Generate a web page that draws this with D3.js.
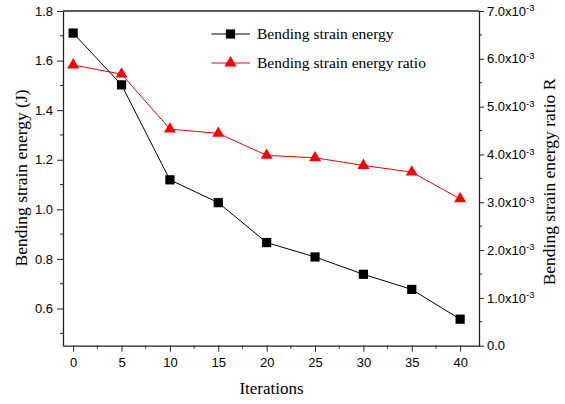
<!DOCTYPE html>
<html>
<head>
<meta charset="utf-8">
<script src="https://cdn.jsdelivr.net/npm/d3@7"></script>
<style>
  body { margin: 0; background: #fff; }
  text { fill: #000; }
</style>
</head>
<body>
<svg id="chart" width="565" height="404"></svg>
<script>
// Data
var iterations = [0, 5, 10, 15, 20, 25, 30, 35, 40];
var strainEnergy = [1.711, 1.502, 1.119, 1.027, 0.866, 0.808, 0.738, 0.677, 0.557];
var energyRatio = [5.87e-3, 5.68e-3, 4.53e-3, 4.44e-3, 3.98e-3, 3.93e-3, 3.77e-3, 3.63e-3, 3.07e-3];
var xTicks = [0, 5, 10, 15, 20, 25, 30, 35, 40];
var leftTicks = [0.6, 0.8, 1.0, 1.2, 1.4, 1.6, 1.8];
var rightTicks = [0, 1e-3, 2e-3, 3e-3, 4e-3, 5e-3, 6e-3, 7e-3];
var legendLabels = ["Bending strain energy", "Bending strain energy ratio"];

// Layout (plot frame)
var plotLeft = 63, plotRight = 479, plotTop = 11, plotBottom = 345.7;
var sans = "'Liberation Sans', Arial, sans-serif";
var serif = "'Liberation Serif', 'Times New Roman', serif";

var svg = d3.select("#chart");

var x = d3.scaleLinear().domain([-1.05, 41.95]).range([plotLeft, plotRight]);
var yL = d3.scaleLinear().domain([0.45, 1.8]).range([plotBottom, plotTop]);
var yR = d3.scaleLinear().domain([0, 7e-3]).range([plotBottom, plotTop]);

// Minor tick helper
function minorTicks(g, vals, fn, len, dir) {
  g.selectAll("line.minor").data(vals).enter().append("line")
    .attr("class", "minor")
    .each(function(d) {
      var p = fn(d);
      var sel = d3.select(this);
      if (dir === "down") sel.attr("x1", p).attr("x2", p).attr("y1", 0).attr("y2", len);
      else if (dir === "left") sel.attr("x1", 0).attr("x2", -len).attr("y1", p).attr("y2", p);
      else sel.attr("x1", 0).attr("x2", len).attr("y1", p).attr("y2", p);
    })
    .attr("stroke", "#222").attr("stroke-width", 1);
}

// Bottom axis
var gx = svg.append("g").attr("transform", "translate(0," + plotBottom + ")")
  .call(d3.axisBottom(x).tickValues(xTicks).tickSize(6).tickSizeOuter(0).tickPadding(4));
minorTicks(gx, [2.5, 7.5, 12.5, 17.5, 22.5, 27.5, 32.5, 37.5], x, 3, "down");

// Left axis
var gl = svg.append("g").attr("transform", "translate(" + plotLeft + ",0)")
  .call(d3.axisLeft(yL).tickValues(leftTicks).tickFormat(d3.format(".1f")).tickSize(6).tickSizeOuter(0).tickPadding(4));
minorTicks(gl, [0.5, 0.7, 0.9, 1.1, 1.3, 1.5, 1.7], yL, 3, "left");

// Right axis
var gr = svg.append("g").attr("transform", "translate(" + plotRight + ",0)")
  .call(d3.axisRight(yR).tickValues(rightTicks).tickSize(5).tickSizeOuter(0).tickPadding(3)
    .tickFormat(function() { return ""; }));
minorTicks(gr, [0.5e-3, 1.5e-3, 2.5e-3, 3.5e-3, 4.5e-3, 5.5e-3, 6.5e-3], yR, 3, "right");

// Right tick labels with superscript exponent
gr.selectAll(".tick text").each(function(d) {
  var t = d3.select(this).text(null);
  if (d === 0) { t.text("0.0"); return; }
  t.append("tspan").text((d * 1000).toFixed(1) + "x10");
  t.append("tspan").attr("dy", "-0.45em").attr("class", "sup").text("-3");
});

[gx, gl, gr].forEach(function(g) {
  g.selectAll("text").attr("font-family", sans).attr("font-size", "13px").attr("fill", "#000");
  g.selectAll("line").attr("stroke", "#222");
  g.select(".domain").attr("stroke", "#222").attr("stroke-width", 1.3);
});
gr.selectAll("tspan.sup").attr("font-size", "9.5px");
gx.selectAll(".tick text").attr("dy", "0.75em").attr("y", 12);

// Top frame line
svg.append("line").attr("x1", plotLeft).attr("x2", plotRight).attr("y1", plotTop).attr("y2", plotTop)
  .attr("stroke", "#222").attr("stroke-width", 1.3);

// Axis titles
svg.append("text").attr("x", (plotLeft + plotRight) / 2 + 0.5).attr("y", 394)
  .attr("text-anchor", "middle").attr("font-family", serif).attr("font-size", "17px")
  .text("Iterations");
svg.append("text").attr("transform", "translate(27,178) rotate(-90)")
  .attr("text-anchor", "middle").attr("font-family", serif).attr("font-size", "17.5px")
  .text("Bending strain energy (J)");
svg.append("text").attr("transform", "translate(555,182) rotate(-90)")
  .attr("text-anchor", "middle").attr("font-family", serif).attr("font-size", "17.5px")
  .text("Bending strain energy ratio R");

// Series
var blackLine = d3.line().x(function(d, i) { return x(iterations[i]); }).y(function(d) { return yL(d); });
var redLine = d3.line().x(function(d, i) { return x(iterations[i]); }).y(function(d) { return yR(d); });

svg.append("path").datum(energyRatio).attr("d", redLine)
  .attr("fill", "none").attr("stroke", "#ff0000").attr("stroke-width", 1);
svg.append("path").datum(strainEnergy).attr("d", blackLine)
  .attr("fill", "none").attr("stroke", "#000").attr("stroke-width", 1);

var tri = d3.symbol().type(d3.symbolTriangle).size(62);
var sq = d3.symbol().type(d3.symbolSquare).size(85);

svg.selectAll("path.tri").data(energyRatio).enter().append("path")
  .attr("class", "tri")
  .attr("transform", function(d, i) { return "translate(" + x(iterations[i]) + "," + yR(d) + ")"; })
  .attr("d", tri).attr("fill", "#ff0000");
svg.selectAll("path.sq").data(strainEnergy).enter().append("path")
  .attr("class", "sq")
  .attr("transform", function(d, i) { return "translate(" + x(iterations[i]) + "," + yL(d) + ")"; })
  .attr("d", sq).attr("fill", "#000");

// Legend
var legend = svg.append("g");
var legendRows = [
  { label: legendLabels[0], color: "#000", sym: sq, y: 34 },
  { label: legendLabels[1], color: "#ff0000", sym: tri, y: 63 }
];
legendRows.forEach(function(r) {
  legend.append("line").attr("x1", 211.5).attr("x2", 250).attr("y1", r.y).attr("y2", r.y)
    .attr("stroke", r.color).attr("stroke-width", 1);
  legend.append("path").attr("d", r.sym).attr("fill", r.color)
    .attr("transform", "translate(230.5," + r.y + ")");
  legend.append("text").attr("x", 257).attr("y", r.y).attr("dy", "0.35em")
    .attr("font-family", serif).attr("font-size", "15.5px").text(r.label);
});
</script>
</body>
</html>
